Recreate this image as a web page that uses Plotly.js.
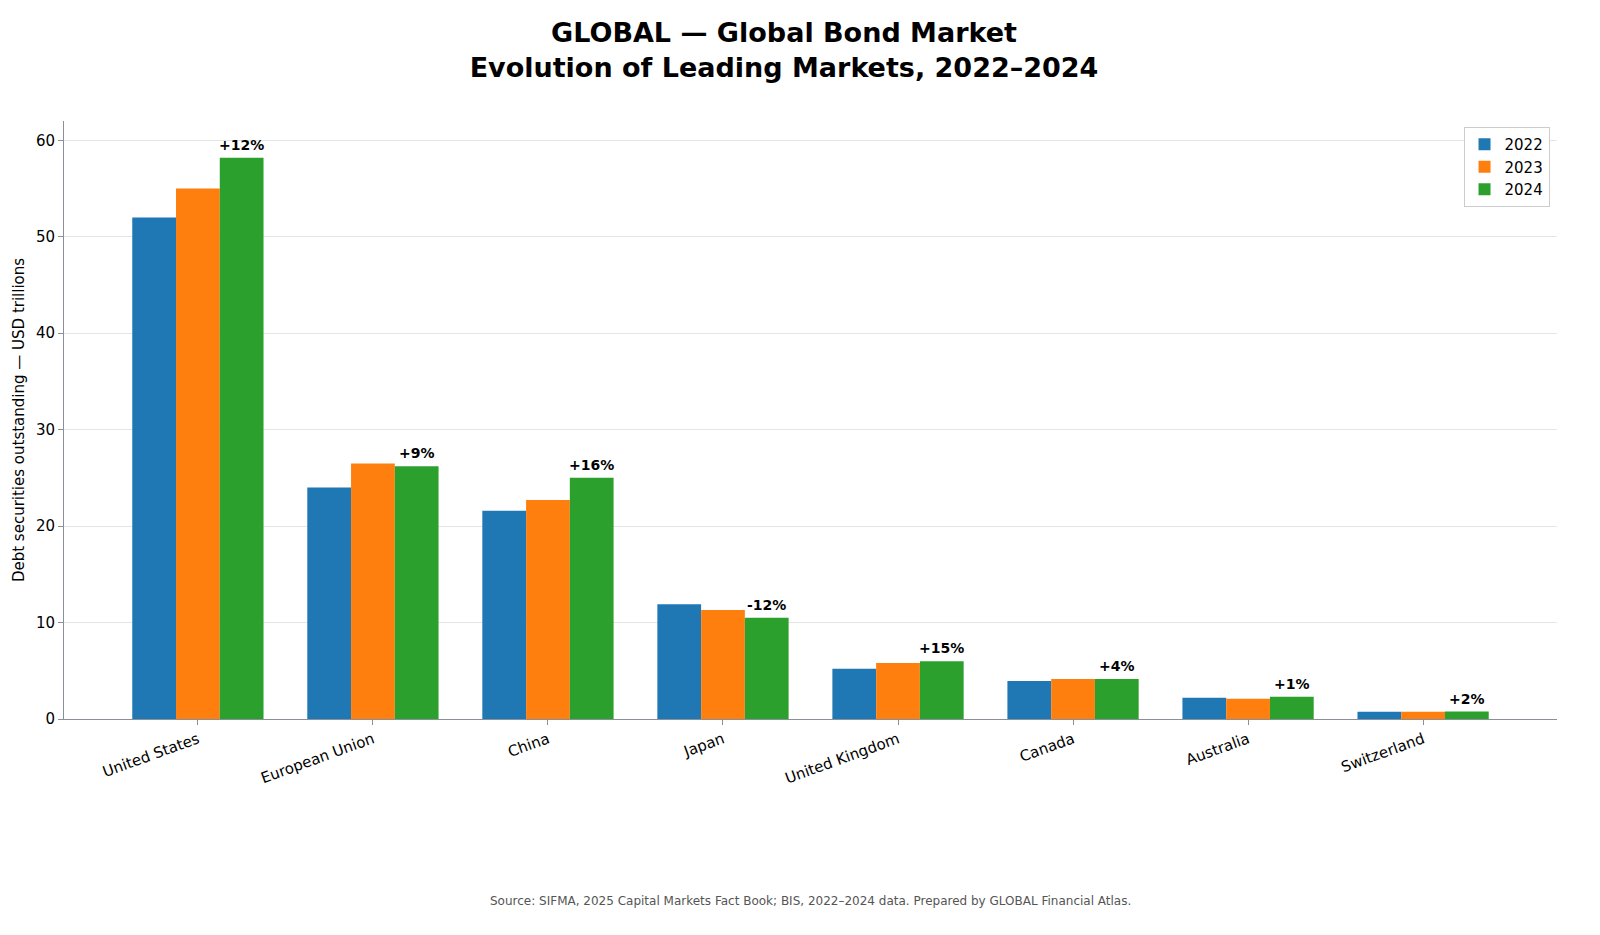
<!DOCTYPE html>
<html>
<head>
<meta charset="utf-8">
<script src="https://cdn.plot.ly/plotly-3.0.1.min.js"></script>
<style>body{margin:0;background:#fff}#chart{width:1600px;height:935px}</style>
</head>
<body>
<div id="chart"></div>
<script>
var markets = ['United States','European Union','China','Japan','United Kingdom','Canada','Australia','Switzerland']
var v2022 = [52.0, 24.0, 21.6, 11.9, 5.2, 3.95, 2.2, 0.75]
var v2023 = [55.0, 26.5, 22.7, 11.3, 5.8, 4.15, 2.1, 0.75]
var v2024 = [58.2, 26.2, 25.0, 10.5, 6.0, 4.15, 2.3, 0.77]
var changeLabels = ['+12%','+9%','+16%','-12%','+15%','+4%','+1%','+2%']

var idx = markets.map(function(m,i){return i})

function bars(name, vals, color){
    return {type:'bar', name:name, x:idx, y:vals, marker:{color:color}}
}
var data = [
    bars('2022', v2022, '#1f77b4'),
    bars('2023', v2023, '#ff7f0e'),
    bars('2024', v2024, '#2ca02c')
]

var annotations = v2024.map(function(v,i){
    return {x:i+0.25, y:v, xref:'x', yref:'y', text:'<b>'+changeLabels[i]+'</b>',
        showarrow:false, yanchor:'bottom', yshift:3, font:{size:14,color:'#000'}}
})
annotations.push({text:'Source: SIFMA, 2025 Capital Markets Fact Book; BIS, 2022–2024 data. Prepared by GLOBAL Financial Atlas.',
    xref:'paper', yref:'paper', x:0.5, y:-0.32, showarrow:false, font:{size:12,color:'#555'}})

var layout = {
    width:1600, height:935,
    font:{family:'DejaVu Sans', size:15, color:'#000'},
    title:{text:'<b>GLOBAL — Global Bond Market<br>Evolution of Leading Markets, 2022–2024</b>',
        font:{size:27}, x:0.49, y:0.955, yanchor:'top'},
    margin:{l:64, r:43, t:121, b:216},
    barmode:'group', bargap:0.25, bargroupgap:0,
    plot_bgcolor:'#fff', paper_bgcolor:'#fff',
    xaxis:{tickvals:idx, ticktext:markets, tickangle:-20, range:[-0.765,7.765],
        showline:true, linecolor:'#8a8f9a', ticks:'outside', ticklen:5, tickcolor:'#8a8f9a', showgrid:false},
    yaxis:{title:{text:'Debt securities outstanding — USD trillions', font:{size:15}},
        range:[0,62], dtick:10, showline:true, linecolor:'#8a8f9a', ticks:'outside', ticklen:5,
        tickcolor:'#8a8f9a', gridcolor:'#e5e5e5', zeroline:false},
    legend:{x:0.995, y:0.99, xanchor:'right', yanchor:'top', bordercolor:'#ccc', borderwidth:1, font:{size:15}},
    annotations:annotations
}
Plotly.newPlot('chart', data, layout, {displayModeBar:false})
</script>
</body>
</html>
